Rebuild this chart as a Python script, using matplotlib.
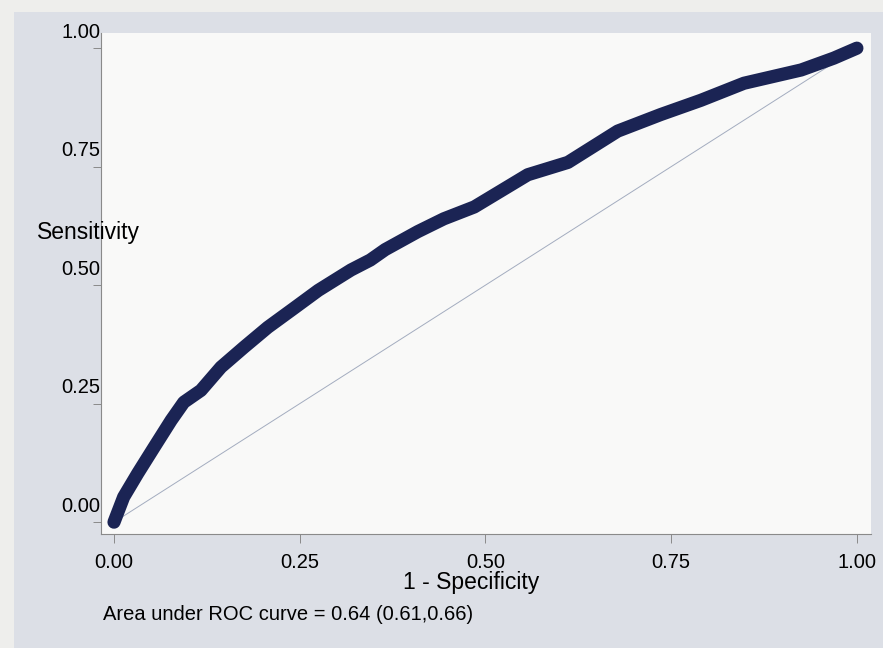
import numpy as np
import matplotlib
matplotlib.use('Agg')
import matplotlib.pyplot as plt
from matplotlib.transforms import ScaledTranslation
from matplotlib.patches import Rectangle

plt.rcParams['font.family'] = ['Liberation Sans', 'DejaVu Sans']

# ROC curve
fpr = [0.0, 0.013, 0.032, 0.054, 0.077, 0.094, 0.117, 0.144, 0.175, 0.207,
       0.242, 0.275, 0.319, 0.345, 0.365, 0.409, 0.444, 0.485, 0.557, 0.611,
       0.678, 0.736, 0.790, 0.848, 0.925, 0.969, 1.0]
sens = [0.0, 0.053, 0.103, 0.158, 0.215, 0.253, 0.278, 0.327, 0.369, 0.411,
        0.451, 0.489, 0.532, 0.553, 0.575, 0.613, 0.640, 0.665, 0.733, 0.759,
        0.825, 0.860, 0.890, 0.926, 0.954, 0.979, 1.0]
ticks = [0.0, 0.25, 0.5, 0.75, 1.0]
tick_labels = ['0.00', '0.25', '0.50', '0.75', '1.00']
note = 'Area under ROC curve = 0.64 (0.61,0.66)'

fig = plt.figure(figsize=(8.83, 6.48), dpi=100)
fig.patch.set_facecolor('#eeeeec')
# grey graph region of the scanned page
fig.patches.append(Rectangle((14 / 883, 0), 1, 1 - 12 / 648, transform=fig.transFigure,
                             facecolor='#dcdfe6', edgecolor='none', zorder=-10))

ax = fig.add_axes([101 / 883, 1 - 534 / 648, 770 / 883, 501 / 648])
ax.set_facecolor('#f9f9f8')

ax.plot([0, 1], [0, 1], color='#a3acbf', lw=0.7, zorder=2)
ax.plot(fpr, sens, color='#1b2454', lw=9.5, solid_capstyle='round',
        solid_joinstyle='round', zorder=3)

ax.set_xlim(-0.0175, 1.019)
ax.set_ylim(-0.025, 1.032)
ax.set_xticks(ticks)
ax.set_xticklabels(tick_labels, fontsize=14.5)
ax.set_yticks(ticks)
ax.set_yticklabels(tick_labels, fontsize=14.5)

for s in ['top', 'right']:
    ax.spines[s].set_visible(False)
for s in ['left', 'bottom']:
    ax.spines[s].set_color('#8a8a8a')
    ax.spines[s].set_linewidth(0.8)
ax.tick_params(axis='x', length=6.5, width=0.7, color='#8a8a8a', pad=7)
ax.tick_params(axis='y', length=5.5, width=0.7, color='#8a8a8a', pad=3)

# y labels sit above their ticks, close to the axis line
shift = ScaledTranslation(11 / 100, 18 / 100, fig.dpi_scale_trans)
for lab in ax.get_yticklabels():
    lab.set_transform(lab.get_transform() + shift)

fig.text(37 / 883, 1 - 232 / 648, 'Sensitivity', fontsize=16.5, ha='left', va='center')
fig.text(471 / 883, 1 - 582 / 648, '1 - Specificity', fontsize=16.5, ha='center', va='center')
fig.text(103 / 883, 1 - 614 / 648, note, fontsize=14.5, ha='left', va='center')

plt.savefig('out.png', dpi=100, facecolor=fig.get_facecolor())
